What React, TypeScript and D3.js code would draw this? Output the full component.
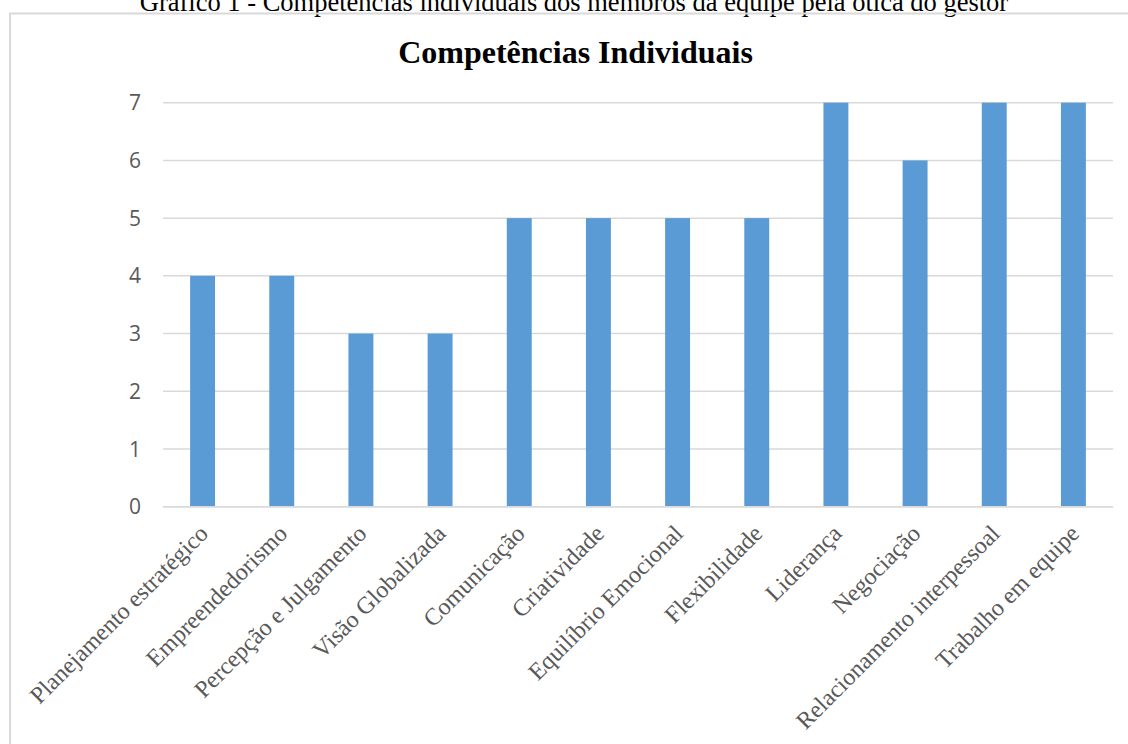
import React from "react";
import * as d3 from "d3";

const categories = [
  "Planejamento estratégico",
  "Empreendedorismo",
  "Percepção e Julgamento",
  "Visão Globalizada",
  "Comunicação",
  "Criatividade",
  "Equilíbrio Emocional",
  "Flexibilidade",
  "Liderança",
  "Negociação",
  "Relacionamento interpessoal",
  "Trabalho em equipe",
];
const values = [4, 4, 3, 3, 5, 5, 5, 5, 7, 6, 7, 7];
const yTicks = [0, 1, 2, 3, 4, 5, 6, 7];
const caption = "Gráfico 1 - Competências individuais dos membros da equipe pela ótica do gestor";
const title = "Competências Individuais";

export default function App() {
  const W = 1128;
  const H = 744;
  const x0 = 163;
  const x1 = 1113;
  const yTop = 102.7;
  const yBot = 506.7;

  const x = d3.scaleBand<string>().domain(categories).range([x0, x1]).paddingInner(0.685).paddingOuter(0.3425);
  const y = d3.scaleLinear().domain([0, 7]).range([yBot, yTop]);

  return (
    <svg width={W} height={H} style={{ position: "absolute", left: 0, top: 0, background: "#fff" }}>
      <rect x={0} y={0} width={W} height={H} fill="#fff" />
      <text
        x={574}
        y={11}
        textAnchor="middle"
        fontFamily="'Liberation Serif', 'Times New Roman', serif"
        fontSize={26.5}
        fill="#000"
      >
        {caption}
      </text>
      <rect x={10} y={13.5} width={W + 20} height={H + 20} fill="none" stroke="#d9d9d9" strokeWidth={2} />
      <text
        x={575.5}
        y={63.3}
        textAnchor="middle"
        fontFamily="'Liberation Serif', 'Times New Roman', serif"
        fontWeight="bold"
        fontSize={32}
        fill="#000"
      >
        {title}
      </text>
      {yTicks.map((t) => (
        <g key={t}>
          <line x1={x0} x2={x1} y1={y(t)} y2={y(t)} stroke="#d9d9d9" strokeWidth={1.5} />
          <text
            x={141}
            y={y(t)}
            dy="0.36em"
            textAnchor="end"
            fontFamily="'Open Sans', 'Noto Sans', sans-serif"
            fontSize={21}
            fill="#595959"
          >
            {t}
          </text>
        </g>
      ))}
      {categories.map((c, i) => (
        <rect
          key={c}
          x={x(c)}
          y={y(values[i])}
          width={x.bandwidth()}
          height={y(0) - y(values[i])}
          fill="#5b9bd5"
        />
      ))}
      <line x1={x0} x2={x1} y1={y(0)} y2={y(0)} stroke="#d9d9d9" strokeWidth={1.5} />
      {categories.map((c) => {
        const cx = (x(c) as number) + x.bandwidth() / 2 + 7;
        const cy = 535;
        return (
          <text
            key={c}
            transform={`translate(${cx},${cy}) rotate(-45)`}
            textAnchor="end"
            fontFamily="'Liberation Serif', 'Times New Roman', serif"
            fontSize={24}
            fill="#595959"
          >
            {c}
          </text>
        );
      })}
    </svg>
  );
}
